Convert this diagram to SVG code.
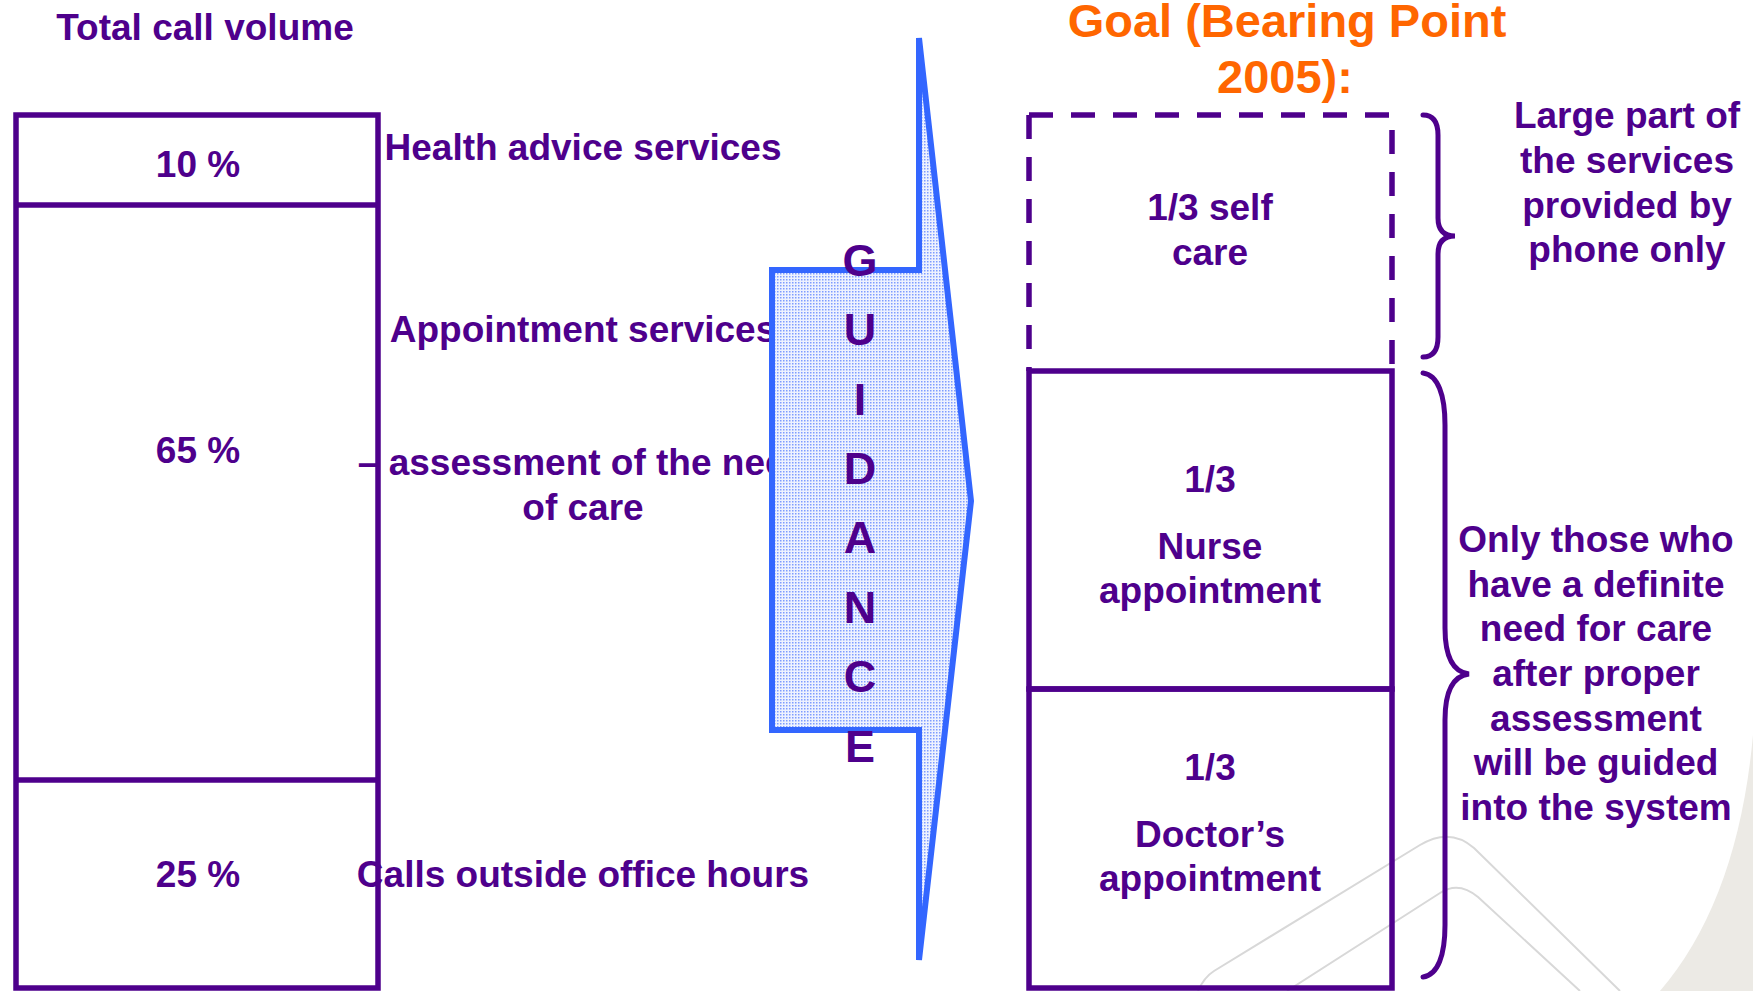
<svg xmlns="http://www.w3.org/2000/svg" width="1753" height="991" viewBox="0 0 1753 991">
  <defs>
    <pattern id="dots" width="3" height="3" patternUnits="userSpaceOnUse">
      <rect width="3" height="3" fill="#EEF2FF"/>
      <rect width="1.5" height="1.5" fill="#7E9CFF"/>
    </pattern>
    <style>
      .t { font-family: "Liberation Sans", Arial, sans-serif; font-weight: bold; font-size: 37px; fill: #4E008C; text-anchor: middle; }
      .title { font-family: "Liberation Sans", Arial, sans-serif; font-weight: bold; font-size: 47px; fill: #FF6600; text-anchor: middle; }
      .g { font-family: "Liberation Sans", Arial, sans-serif; font-weight: bold; font-size: 45px; fill: #4E008C; text-anchor: middle; }
      .box { fill: none; stroke: #4E008C; stroke-width: 5.5; }
      .dash { fill: none; stroke: #4E008C; stroke-width: 5.5; stroke-dasharray: 24 18; }
      .brace { fill: none; stroke: #4E008C; stroke-width: 5; stroke-linecap: round; }
      .wm { fill: none; stroke: #D8D8D8; stroke-width: 2; }
    </style>
  </defs>
  <rect width="1753" height="991" fill="#FFFFFF"/>

  <g id="background">
    <path d="M1753,735 Q1738,900 1660,991 L1753,991 Z" fill="#ECEAE5"/>
    <path class="wm" d="M1198,991 C1202,982 1206,976 1214,971 L1420,845 C1440,833 1458,834 1474,848 L1620,991"/>
    <path class="wm" d="M1287,991 L1440,893 C1452,885 1465,886 1478,897 L1580,991"/>
  </g>

  <text id="left-title" class="t" x="205" y="40">Total call volume</text>

  <g id="call-volume">
    <rect class="box" x="16" y="115" width="362" height="873"/>
    <line class="box" x1="16" y1="205" x2="378" y2="205"/>
    <line class="box" x1="16" y1="780" x2="378" y2="780"/>
    <g id="seg-10"><text class="t" x="198" y="177">10 %</text></g>
    <g id="seg-65"><text class="t" x="198" y="463">65 %</text></g>
    <g id="seg-25"><text class="t" x="198" y="887">25 %</text></g>
  </g>

  <g id="labels">
    <text class="t" x="583" y="160">Health advice services</text>
    <text class="t" x="583" y="342">Appointment services</text>
    <text class="t" x="583" y="475">– assessment of the need</text>
    <text class="t" x="583" y="520">of care</text>
    <text class="t" x="583" y="887">Calls outside office hours</text>
  </g>

  <g id="guidance">
    <path d="M919,38 L971,501 L919,960 L919,730 L772,730 L772,270 L919,270 Z" fill="url(#dots)" stroke="#3366FF" stroke-width="6" stroke-linejoin="miter"/>
    <text class="g" x="860" y="276">G</text>
    <text class="g" x="860" y="345">U</text>
    <text class="g" x="860" y="415">I</text>
    <text class="g" x="860" y="484">D</text>
    <text class="g" x="860" y="553">A</text>
    <text class="g" x="860" y="623">N</text>
    <text class="g" x="860" y="692">C</text>
    <text class="g" x="860" y="762">E</text>
  </g>

  <g id="goal-title">
    <text class="title" x="1287" y="37">Goal (Bearing Point</text>
    <text class="title" x="1285" y="93">2005):</text>
  </g>

  <g id="self-care">
    <path class="dash" d="M1029,115 H1392 V371"/>
    <path class="dash" d="M1029,115 V371"/>
    <text class="t" x="1210" y="220">1/3 self</text>
    <text class="t" x="1210" y="265">care</text>
  </g>

  <g id="nurse">
    <rect class="box" x="1029" y="371" width="363" height="318"/>
    <text class="t" x="1210" y="492">1/3</text>
    <text class="t" x="1210" y="559">Nurse</text>
    <text class="t" x="1210" y="603">appointment</text>
  </g>

  <g id="doctor">
    <rect class="box" x="1029" y="689" width="363" height="299"/>
    <text class="t" x="1210" y="780">1/3</text>
    <text class="t" x="1210" y="847">Doctor’s</text>
    <text class="t" x="1210" y="891">appointment</text>
  </g>

  <g id="connectors">
    <path class="brace" d="M1423,115 C1433,115 1438,122 1438,135 L1438,218 C1438,230 1444,236 1455,236 C1444,236 1438,242 1438,254 L1438,337 C1438,350 1433,357 1423,357"/>
    <path class="brace" d="M1423,373 C1438,375 1445,395 1445,425 L1445,628 C1445,655 1452,672 1469,674 C1452,676 1445,693 1445,720 L1445,925 C1445,955 1438,975 1423,977"/>
  </g>

  <g id="note-phone">
    <text class="t" x="1627" y="128">Large part of</text>
    <text class="t" x="1627" y="173">the services</text>
    <text class="t" x="1627" y="218">provided by</text>
    <text class="t" x="1627" y="262">phone only</text>
  </g>

  <g id="note-system">
    <text class="t" x="1596" y="552">Only those who</text>
    <text class="t" x="1596" y="597">have a definite</text>
    <text class="t" x="1596" y="641">need for care</text>
    <text class="t" x="1596" y="686">after proper</text>
    <text class="t" x="1596" y="731">assessment</text>
    <text class="t" x="1596" y="775">will be guided</text>
    <text class="t" x="1596" y="820">into the system</text>
  </g>
</svg>
